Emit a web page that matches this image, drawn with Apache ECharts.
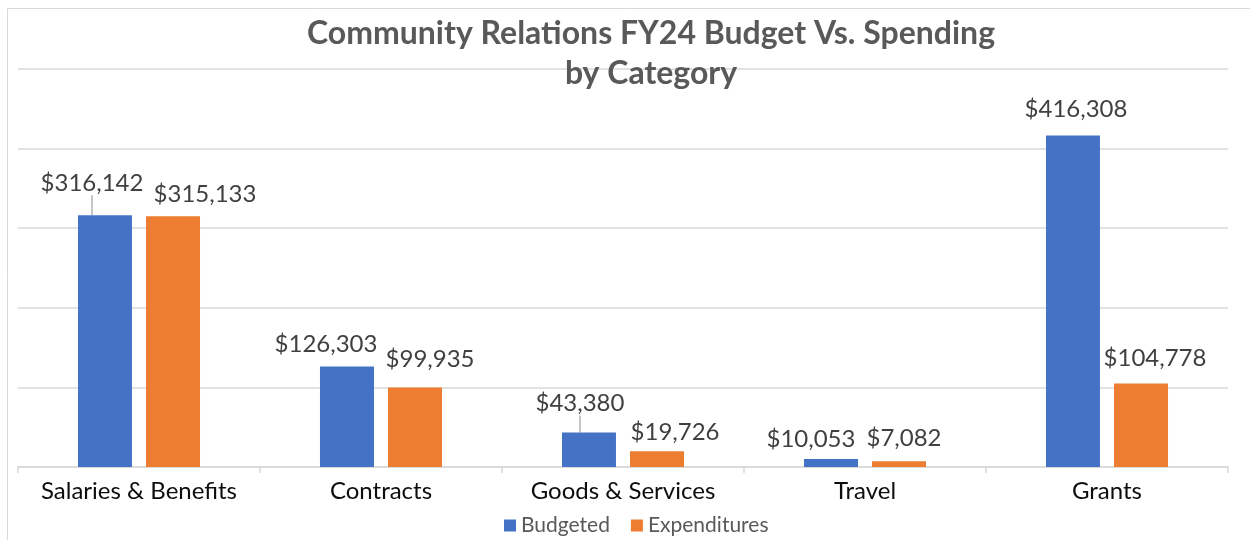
<!DOCTYPE html>
<html>
<head>
<meta charset="utf-8">
<title>Community Relations FY24 Budget Vs. Spending</title>
<script src="https://cdn.jsdelivr.net/npm/echarts@6/dist/echarts.min.js"></script>
<style>
  html, body { margin: 0; padding: 0; background: #fff; }
  #chart { width: 1250px; height: 540px; }
</style>
</head>
<body>
<div id="chart"></div>
<script>
const categories = ['Salaries & Benefits', 'Contracts', 'Goods & Services', 'Travel', 'Grants'];
const budgeted = [316142, 126303, 43380, 10053, 416308];
const expenditures = [315133, 99935, 19726, 7082, 104778];

// label nudges, as in the original (excel moved some labels by hand)
const labelShift = [
  [[-13, -15], [-21, -5], [-9, -12], [-20, -3], [3, -9]],
  [[32, -5], [15, -11], [18, -2], [5, -6], [14, -8]]
];
const leaderLines = [[0, 0], [0, 2]];

const chart = echarts.init(document.getElementById('chart'));

const money = v => '$' + v.value.toLocaleString('en-US');

const valueLabel = {
  show: true,
  position: 'top',
  distance: 5,
  formatter: money,
  fontFamily: 'Lato',
  fontSize: 24,
  color: '#404040'
};

function withLines(values, seriesIndex) {
  return values.map((v, i) => {
    const hasLine = leaderLines.some(p => p[0] === seriesIndex && p[1] === i);
    return hasLine ? { value: v, labelLine: { show: true, lineStyle: { color: '#a6a6a6', width: 1.3 } } } : v;
  });
}

chart.setOption({
  animation: false,
  textStyle: { fontFamily: 'Lato' },
  title: {
    text: 'Community Relations FY24 Budget Vs. Spending\nby Category',
    left: 646,
    top: 9,
    textAlign: 'center',
    textStyle: {
      fontFamily: 'Lato',
      fontSize: 32,
      fontWeight: 'bold',
      color: '#595959',
      lineHeight: 40
    }
  },
  graphic: [{
    type: 'rect',
    shape: { x: 7.5, y: 8.5, width: 1300, height: 600 },
    style: { fill: 'none', stroke: '#d9d9d9', lineWidth: 1 },
    silent: true
  }],
  legend: {
    bottom: 4,
    left: 504,
    padding: 0,
    itemWidth: 12,
    itemHeight: 12,
    itemGap: 21,
    icon: 'rect',
    textStyle: { fontFamily: 'Lato', fontSize: 21, color: '#595959' },
    data: ['Budgeted', 'Expenditures']
  },
  grid: { left: 18, right: 22, top: 69, bottom: 73, containLabel: false },
  xAxis: {
    type: 'category',
    data: categories,
    axisLine: { lineStyle: { color: '#d9d9d9', width: 1.5 } },
    axisTick: { show: true, length: 6, lineStyle: { color: '#d9d9d9', width: 1.5 } },
    axisLabel: { interval: 0, fontFamily: 'Lato', fontSize: 24, color: '#0d0d0d', margin: 12 }
  },
  yAxis: {
    type: 'value',
    min: 0,
    max: 500000,
    interval: 100000,
    axisLabel: { show: false },
    axisLine: { show: false },
    axisTick: { show: false },
    splitLine: { lineStyle: { color: '#d9d9d9', width: 1.5 } }
  },
  series: [
    {
      name: 'Budgeted',
      type: 'bar',
      data: withLines(budgeted, 0),
      barWidth: 54,
      barGap: '26%',
      itemStyle: { color: '#4472c4' },
      label: valueLabel
    },
    {
      name: 'Expenditures',
      type: 'bar',
      data: withLines(expenditures, 1),
      barWidth: 54,
      barGap: '26%',
      itemStyle: { color: '#ed7d31' },
      label: valueLabel
    }
  ],
  labelLayout: function (params) {
    const s = labelShift[params.seriesIndex][params.dataIndex];
    return { dx: s[0], dy: s[1] };
  }
});
</script>
</body>
</html>
